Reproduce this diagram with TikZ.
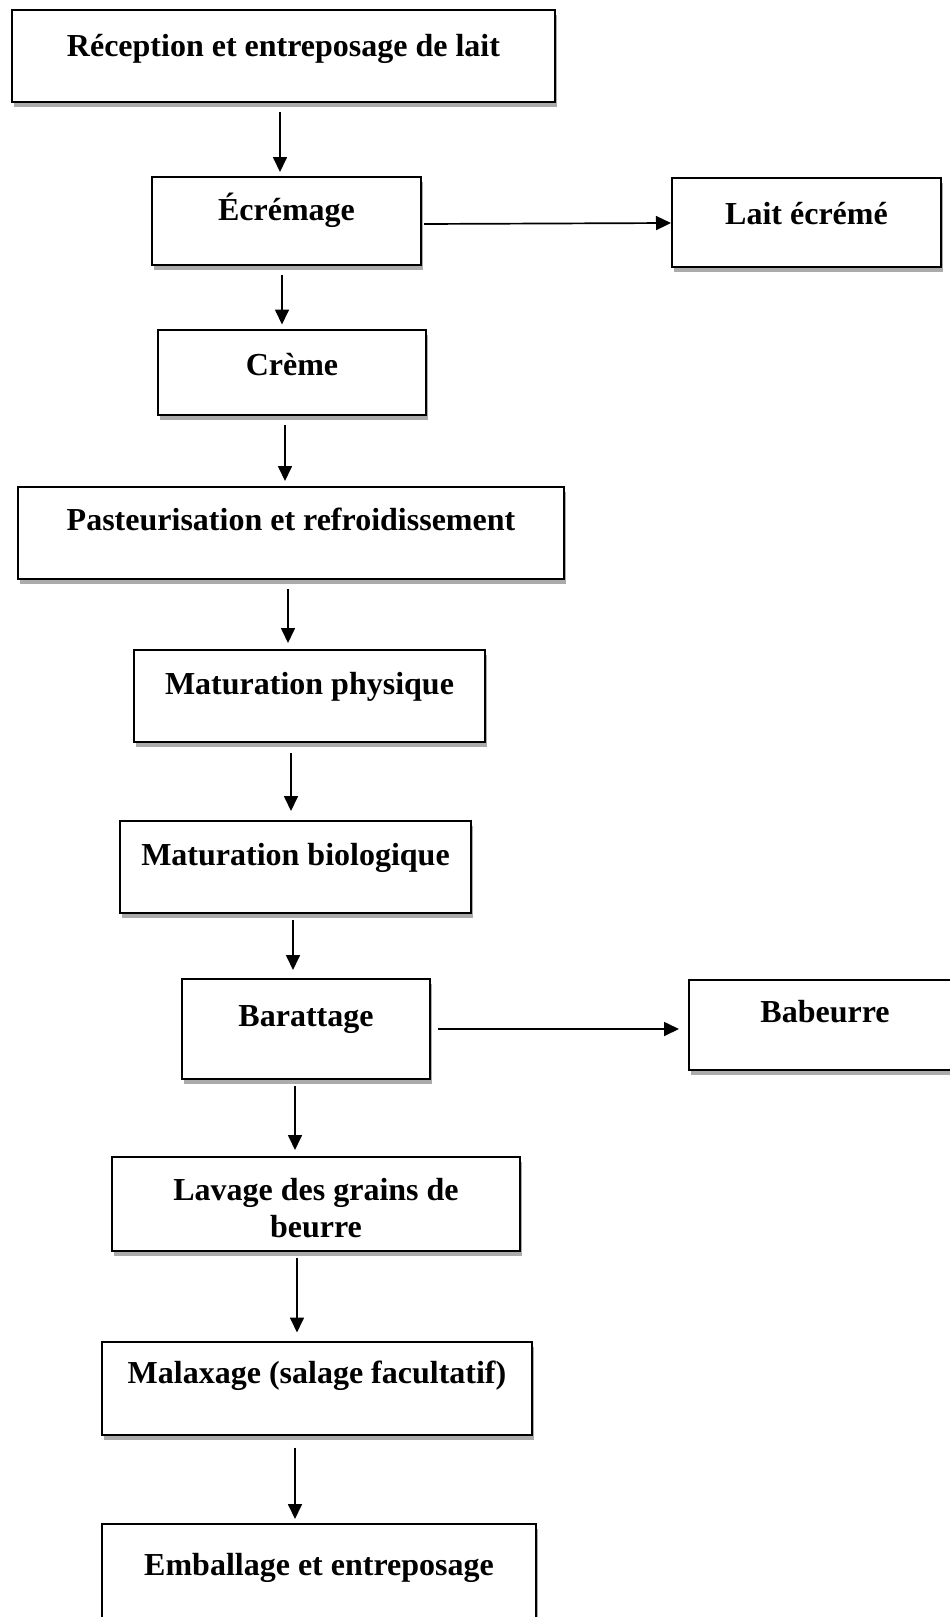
\documentclass[tikz,border=0pt]{standalone}
\usepackage{fontspec}
\setmainfont{Liberation Serif}
\usetikzlibrary{arrows.meta,shadows,calc}
\tikzset{
  box/.style={draw=black, line width=2pt, fill=white, inner sep=0pt,
    drop shadow={shadow xshift=1.5pt, shadow yshift=-5pt, fill=black!33, opacity=1}},
  lbl/.style={font=\fontsize{32}{37}\selectfont\bfseries, align=center, inner sep=0pt},
  arr/.style={line width=1.7pt, -{Triangle[length=15pt,width=14pt]}},
}
\begin{document}
\begin{tikzpicture}[x=1pt,y=-1pt]
\useasboundingbox (0,0) rectangle (950,1617);
\clip (0,0) rectangle (950,1617);
% boxes
\node[box, minimum width=543pt, minimum height=92pt] (b1) at (283.5,56) {};
\node[box, minimum width=269pt, minimum height=88pt] (b2) at (286.5,221) {};
\node[box, minimum width=269pt, minimum height=89pt] (b3) at (806.5,222) {};
\node[box, minimum width=268pt, minimum height=85pt] (b4) at (292,372) {};
\node[box, minimum width=546pt, minimum height=92pt] (b5) at (291,533) {};
\node[box, minimum width=351pt, minimum height=92pt] (b6) at (309.5,696) {};
\node[box, minimum width=351pt, minimum height=92pt] (b7) at (295.5,867) {};
\node[box, minimum width=248pt, minimum height=100pt] (b8) at (306,1029) {};
\node[box, minimum width=272pt, minimum height=90pt] (b9) at (825,1025) {};
\node[box, minimum width=408pt, minimum height=94pt] (b10) at (316,1204) {};
\node[box, minimum width=430pt, minimum height=93pt] (b11) at (317,1388) {};
\node[box, minimum width=434pt, minimum height=130pt] (b12) at (319,1589) {};
% texts
\node[lbl] (t1) at ($(b1.north)+(0,40)$) {Réception et entreposage de lait};
\node[lbl] (t2) at ($(b2.north)+(0,34)$) {Écrémage};
\node[lbl] (t3) at ($(b3.north)+(0,37)$) {Lait écrémé};
\node[lbl] (t4) at ($(b4.north)+(0,36)$) {Crème};
\node[lbl] (t5) at ($(b5.north)+(0,33)$) {Pasteurisation et refroidissement};
\node[lbl] (t6) at ($(b6.north)+(0,38)$) {Maturation physique};
\node[lbl] (t7) at ($(b7.north)+(0,38)$) {Maturation biologique};
\node[lbl] (t8) at ($(b8.north)+(0,42)$) {Barattage};
\node[lbl] (t9) at ($(b9.north)+(0,33)$) {Babeurre};
\node[lbl] (t10) at ($(b10.north)+(0,52)$) {Lavage des grains de\\beurre};
\node[lbl] (t11) at ($(b11.north)+(0,35)$) {Malaxage (salage facultatif)};
\node[lbl] (t12) at ($(b12.north)+(0,45)$) {Emballage et entreposage};
% connectors
\draw[arr, shorten <=9pt, shorten >=4pt] ([xshift=-3.5pt]b1.south) -- ([xshift=-6.5pt]b2.north);
\draw[arr, shorten <=2pt] ([yshift=-3pt]b2.east) -- ([yshift=-1pt]b3.west);
\draw[arr, shorten <=9pt, shorten >=4pt] ([xshift=-4.5pt]b2.south) -- ([xshift=-10pt]b4.north);
\draw[arr, shorten <=9pt, shorten >=5pt] ([xshift=-7pt]b4.south) -- ([xshift=-6pt]b5.north);
\draw[arr, shorten <=9pt, shorten >=6pt] ([xshift=-3pt]b5.south) -- ([xshift=-21.5pt]b6.north);
\draw[arr, shorten <=10pt, shorten >=9pt] ([xshift=-18.5pt]b6.south) -- ([xshift=-4.5pt]b7.north);
\draw[arr, shorten <=6pt, shorten >=8pt] ([xshift=-2.5pt]b7.south) -- ([xshift=-13pt]b8.north);
\draw[arr, shorten <=7pt, shorten >=9pt] ([yshift=0pt]b8.east) -- (b8.east -| b9.west);
\draw[arr, shorten <=6pt, shorten >=6pt] ([xshift=-11pt]b8.south) -- ([xshift=-21pt]b10.north);
\draw[arr, shorten <=6pt, shorten >=8pt] ([xshift=-19pt]b10.south) -- ([xshift=-20pt]b11.north);
\draw[arr, shorten <=12pt, shorten >=4pt] ([xshift=-22pt]b11.south) -- ([xshift=-24pt]b12.north);
\end{tikzpicture}
\end{document}
